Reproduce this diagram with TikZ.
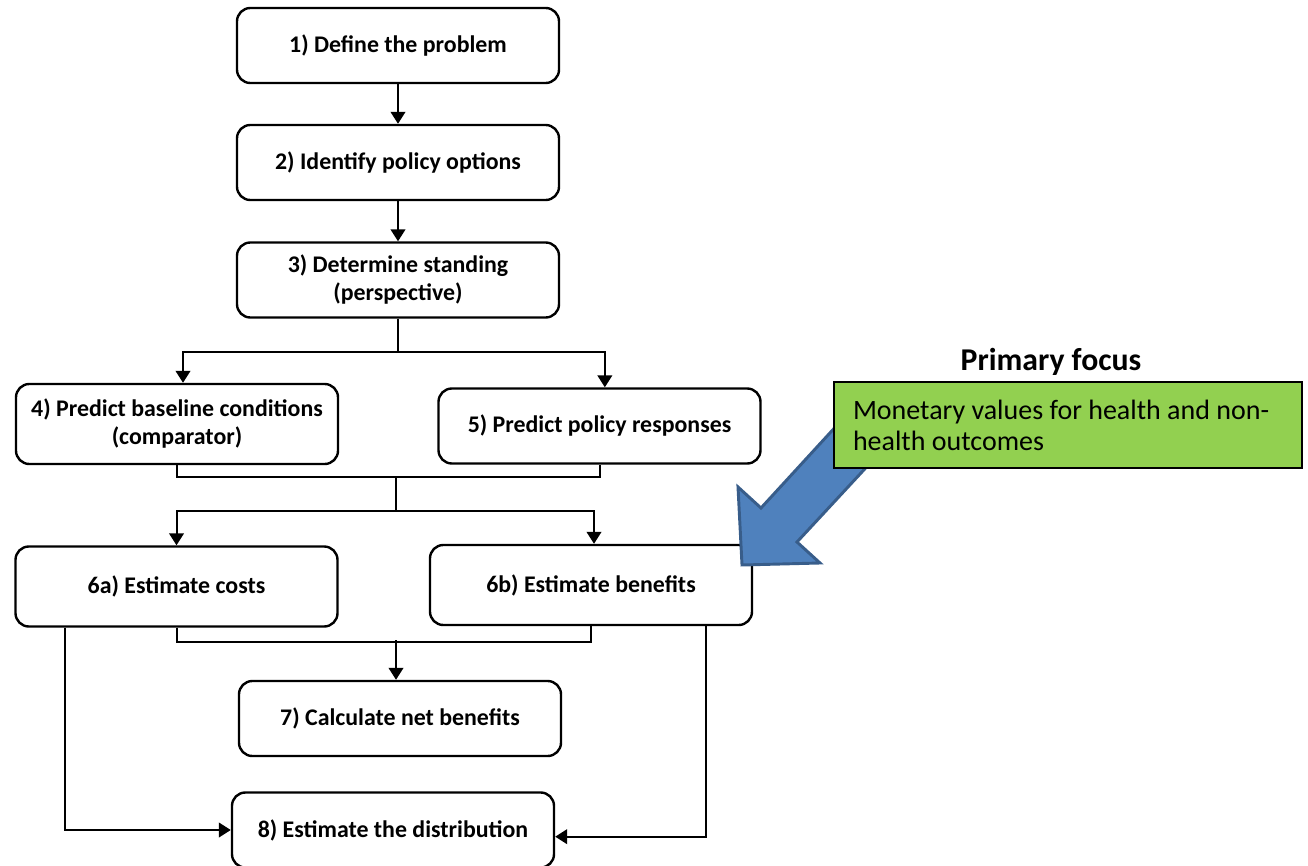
\documentclass[tikz,border=0pt]{standalone}
\usepackage{fontspec}
\setmainfont{Carlito}
\usetikzlibrary{arrows.meta}
\definecolor{focusgreen}{HTML}{92D050}
\definecolor{arrowblue}{HTML}{4F81BD}
\definecolor{arrowedge}{HTML}{385D8A}

\begin{document}
\begin{tikzpicture}[x=0.75pt, y=-0.75pt, line width=1.5pt, >={Triangle[length=9pt,width=11pt]},
        main/.style = {draw, line width=1.8pt, rounded corners=10pt, minimum width=241.5pt, minimum height=56.25pt, align=center, font=\fontsize{17.9}{21}\selectfont\bfseries},
        tall/.style = {minimum height=60pt},
        focus/.style = {draw, fill=focusgreen, line width=1.2pt, inner xsep=14.25pt, text width=322.5pt, minimum height=64.5pt, align=flush left, font=\fontsize{21}{23.4}\selectfont}]
        \useasboundingbox (0,0) rectangle (1308,866);

        \node[main] (P1) at (398,45.5) {1) Define the problem};
        \node[main] (P2) at (398,162.5) {2) Identify policy options};
        \node[main] (P3) at (398,280) {3) Determine standing\\(perspective)};
        \node[main, tall] (P4) at (177,424) {4) Predict baseline conditions\\(comparator)};
        \node[main] (P5) at (599.5,426) {5) Predict policy responses};
        \node[main, tall] (P6a) at (176.5,586.5) {6a) Estimate costs};
        \node[main, tall] (P6b) at (591,585) {6b) Estimate benefits};
        \node[main] (P7) at (400,718.5) {7) Calculate net benefits};
        \node[main] (P8) at (393,830) {8) Estimate the distribution};

        \draw[->] (P1) -- (P2);
        \draw[->] (P2) -- (P3);
        \draw (P3.south) -- ++(0,33) coordinate (J1);
        \draw[->] (J1) -| ([xshift=4.5pt]P4.north);
        \draw[->] (J1) -| ([xshift=4pt]P5.north);

        \draw (P4.south) -- ++(0,12) -| (P5.south);
        \coordinate (J2) at (396,476);
        \coordinate (J3) at (396,511);
        \draw (J2) -- (J3);
        \draw[->] (J3) -| (P6a.north);
        \draw[->] (J3) -| ([xshift=2.25pt]P6b.north);

        \draw (P6a.south) -- ++(0,14) -| (P6b.south);
        \coordinate (J4) at (396,640);
        \draw[->] (J4) -- (J4 |- P7.north);
        \draw[->] ([xshift=38.25pt]P6a.south west) |- (P8.west);
        \draw[->] ([xshift=-35.25pt]P6b.south east) |- ([yshift=-5pt]P8.east);

        % block arrow pointing at 6b
        \draw[arrowedge, fill=arrowblue, line width=2.2pt, line join=miter] (742,565) -- (820,563) -- (797,542) -- (899,432) -- (862,398) -- (761,508) -- (738,487) -- cycle;
        \node[focus] (F) at (1068,425) {Monetary values for health and non-\\health outcomes};
        \node[font=\fontsize{23.8}{27}\selectfont\bfseries, anchor=base] (T) at (1051,370) {Primary focus};
    \end{tikzpicture}
\end{document}
